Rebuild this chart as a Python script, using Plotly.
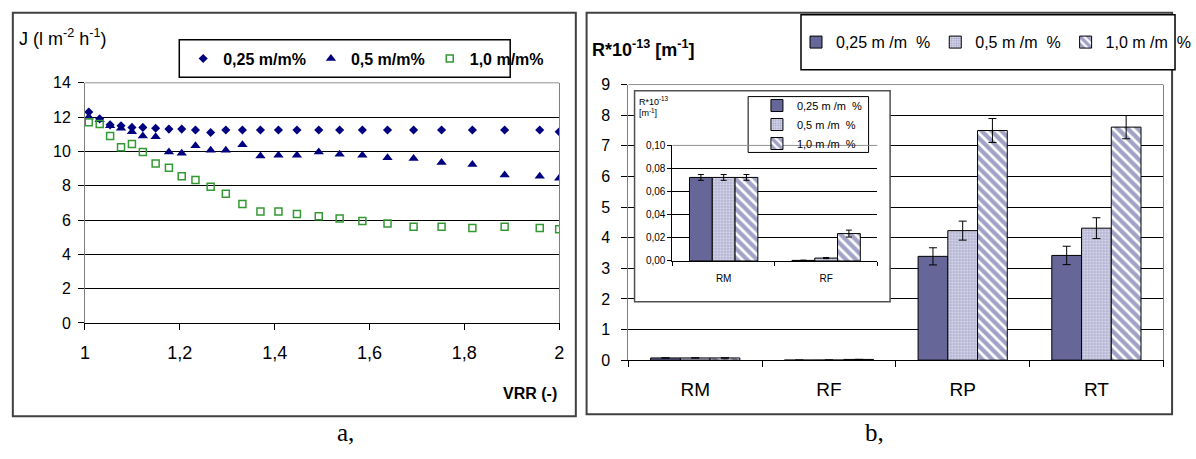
import plotly.graph_objects as go

W, H = 1196, 459

# ---------------- data: panel a ----------------
vrr = [1.008, 1.031, 1.053, 1.076, 1.099, 1.122, 1.149, 1.177, 1.204, 1.233, 1.265, 1.297, 1.332,
       1.370, 1.408, 1.447, 1.493, 1.537, 1.585, 1.638, 1.693, 1.752, 1.817, 1.885, 1.959, 2.0]
j_025 = [12.3, 11.9, 11.55, 11.5, 11.4, 11.4, 11.35, 11.3, 11.3, 11.25, 11.1, 11.25, 11.25,
         11.25, 11.25, 11.25, 11.25, 11.25, 11.25, 11.25, 11.25, 11.25, 11.25, 11.25, 11.25, 11.15]
j_05 = [12.0, 11.85, 11.5, 11.35, 11.15, 10.9, 10.85, 9.97, 9.9, 10.33, 10.07, 10.07, 10.39,
        9.73, 9.78, 9.78, 9.97, 9.84, 9.78, 9.63, 9.59, 9.36, 9.23, 8.63, 8.55, 8.44]
j_10 = [11.7, 11.6, 10.9, 10.24, 10.43, 9.97, 9.29, 9.05, 8.55, 8.34, 7.94, 7.53, 6.94,
        6.49, 6.49, 6.35, 6.22, 6.09, 5.94, 5.8, 5.61, 5.61, 5.54, 5.61, 5.54, 5.46]
series_a = ["0,25 m/m%", "0,5 m/m%", "1,0 m/m%"]
x_ticks_a = [1, 1.2, 1.4, 1.6, 1.8, 2]
y_ticks_a = [0, 2, 4, 6, 8, 10, 12, 14]

# ---------------- data: panel b ----------------
cats = ["RM", "RF", "RP", "RT"]
series_b = ["0,25 m /m  %", "0,5 m /m  %", "1,0 m /m  %"]
r_025 = [0.0723, 0.0005, 3.39, 3.42]
r_05 = [0.0723, 0.0025, 4.23, 4.31]
r_10 = [0.0723, 0.0237, 7.50, 7.61]
e_025 = [0.0025, 0.0002, 0.28, 0.30]
e_05 = [0.0025, 0.0005, 0.31, 0.34]
e_10 = [0.0025, 0.003, 0.39, 0.38]
y_ticks_b = [0, 1, 2, 3, 4, 5, 6, 7, 8, 9]
y_ticks_inset = [0, 0.02, 0.04, 0.06, 0.08, 0.10]
n_inset = 2  # inset shows RM and RF

FONT = "Liberation Sans, Arial, sans-serif"
DARK = "#666699"

def px_x(p):
    return p / W

def px_y(p):
    return 1 - p / H

fig = go.Figure()

# ---- panel a traces ----
fig.add_trace(go.Scatter(x=vrr, y=j_025, mode="markers", name=series_a[0],
                         marker=dict(symbol="diamond", size=7, color="#000080"),
                         xaxis="x4", yaxis="y4", legend="legend"))
fig.add_trace(go.Scatter(x=vrr, y=j_05, mode="markers", name=series_a[1],
                         marker=dict(symbol="triangle-up", size=9, color="#000080"),
                         xaxis="x4", yaxis="y4", legend="legend"))
fig.add_trace(go.Scatter(x=vrr, y=j_10, mode="markers", name=series_a[2],
                         marker=dict(symbol="square-open", size=7, color="#339933",
                                     line=dict(width=1.5, color="#339933")),
                         xaxis="x4", yaxis="y4", legend="legend"))

# ---- panel b bars ----
styles = [
    dict(color=DARK, line=dict(color="black", width=1)),
    dict(color="#c8c8e0", line=dict(color="black", width=1),
         pattern=dict(shape=".", fgcolor="#6a6aa8", bgcolor="#e2e2f0", size=3, solidity=0.5)),
    dict(color=DARK, line=dict(color="black", width=1),
         pattern=dict(shape="\\", fgcolor="#45458f", bgcolor="white", size=7, solidity=0.62)),
]
vals = [r_025, r_05, r_10]
errs = [e_025, e_05, e_10]
for i in range(3):
    fig.add_trace(go.Bar(x=cats, y=vals[i], name=series_b[i], marker=styles[i],
                         error_y=dict(type="data", array=errs[i], color="black", thickness=1, width=4),
                         xaxis="x", yaxis="y", legend="legend2"))
# cover subplot (opaque background for inset box)
fig.add_trace(go.Scatter(x=[None], y=[None], xaxis="x2", yaxis="y2", showlegend=False, hoverinfo="skip"))
for i in range(3):
    fig.add_trace(go.Bar(x=cats[:n_inset], y=vals[i][:n_inset], name=series_b[i], marker=styles[i],
                         error_y=dict(type="data", array=errs[i][:n_inset], color="black", thickness=1, width=3),
                         xaxis="x3", yaxis="y3", legend="legend3"))

axis_common = dict(zeroline=False, tickfont=dict(family=FONT, size=16, color="black"))

fig.update_layout(
    width=W, height=H, autosize=False,
    margin=dict(l=0, r=0, t=0, b=0),
    paper_bgcolor="white", plot_bgcolor="white",
    separators=", ",
    barmode="group", bargap=0.333, bargroupgap=0,
    font=dict(family=FONT, color="black"),
    # main b
    xaxis=dict(domain=[px_x(636.7), px_x(1183)], anchor="y", type="category", categoryorder="array",
               categoryarray=cats, range=[-0.5, 3.5], tickson="boundaries", ticks="outside", ticklen=6,
               tickcolor="black", showline=True, linecolor="black", linewidth=1, showgrid=False,
               zeroline=False, tickfont=dict(family=FONT, size=19, color="black"), ticklabelstandoff=12),
    yaxis=dict(domain=[px_y(365.7), px_y(79.5)], anchor="x", range=[0, 9], tickvals=y_ticks_b,
               ticks="outside", ticklen=6, tickcolor="black", showline=True, linecolor="#808080",
               mirror=True, showgrid=True, gridcolor="black", gridwidth=1, ticklabelstandoff=8, **axis_common),
    # cover
    xaxis2=dict(domain=[px_x(643), px_x(904)], anchor="y2", visible=False, range=[0, 1]),
    yaxis2=dict(domain=[px_y(305), px_y(86)], anchor="x2", visible=False, range=[0, 1]),
    # inset
    xaxis3=dict(domain=[px_x(681.7), px_x(891)], anchor="y3", type="category", categoryorder="array",
                categoryarray=cats[:n_inset], range=[-0.5, 1.5], tickson="boundaries", ticks="outside",
                ticklen=4, tickcolor="black", showline=True, linecolor="black", showgrid=False, zeroline=False,
                tickfont=dict(family=FONT, size=10, color="black"), ticklabelstandoff=8),
    yaxis3=dict(domain=[px_y(262.7), px_y(142.7)], anchor="x3", range=[0, 0.1], tickvals=y_ticks_inset,
                tickformat=".2f", ticks="outside", ticklen=4, tickcolor="black", showline=True,
                linecolor="black", showgrid=True, gridcolor="black", gridwidth=1, zeroline=False,
                tickfont=dict(family=FONT, size=10, color="black")),
    # panel a
    xaxis4=dict(domain=[px_x(81.7), px_x(566)], anchor="y4", range=[1, 2], tickvals=x_ticks_a,
                ticks="outside", ticklen=6, tickcolor="black", showline=True, linecolor="black",
                showgrid=False, zeroline=False, ticklabelstandoff=8,
                tickfont=dict(family=FONT, size=18, color="black")),
    yaxis4=dict(domain=[px_y(327), px_y(77.7)], anchor="x4", range=[0, 14], tickvals=y_ticks_a,
                ticks="outside", ticklen=6, tickcolor="black", showline=True, linecolor="#808080",
                mirror=True, showgrid=True, gridcolor="black", gridwidth=1, ticklabelstandoff=4,
                **axis_common),
    legend=dict(orientation="h", x=px_x(182), xanchor="left", y=px_y(52.5), yanchor="middle",
                bgcolor="rgba(0,0,0,0)", borderwidth=0, itemwidth=30,
                font=dict(family=FONT, size=16, color="black", weight="bold")),
    legend2=dict(orientation="h", x=px_x(808), xanchor="left", y=px_y(35.5), yanchor="middle",
                 bgcolor="rgba(0,0,0,0)", borderwidth=0, itemwidth=30,
                 font=dict(family=FONT, size=16, color="black")),
    legend3=dict(orientation="v", x=px_x(768), xanchor="left", y=px_y(121), yanchor="middle",
                 bgcolor="rgba(0,0,0,0)", borderwidth=0, itemwidth=30, tracegroupgap=0,
                 font=dict(family=FONT, size=11, color="black")),
    showlegend=True,
)

shapes = [
    # panel frames
    dict(type="rect", xref="paper", yref="paper", x0=px_x(8), x1=px_x(583), y0=px_y(424), y1=px_y(5),
         line=dict(color="#404040", width=2), layer="below"),
    dict(type="rect", xref="paper", yref="paper", x0=px_x(594), x1=px_x(1192), y0=px_y(422), y1=px_y(5),
         line=dict(color="#404040", width=2), layer="below"),
    # legend frames
    dict(type="rect", xref="paper", yref="paper", x0=px_x(178), x1=px_x(516), y0=px_y(72), y1=px_y(33),
         line=dict(color="black", width=1.5), fillcolor="white", layer="above"),
    dict(type="rect", xref="paper", yref="paper", x0=px_x(813), x1=px_x(1195), y0=px_y(64), y1=px_y(7),
         line=dict(color="black", width=1.5), fillcolor="white", layer="above"),
    dict(type="rect", xref="paper", yref="paper", x0=px_x(643), x1=px_x(904), y0=px_y(305), y1=px_y(86),
         line=dict(color="#505050", width=1.5), layer="above"),
    dict(type="rect", xref="paper", yref="paper", x0=px_x(759), x1=px_x(882), y0=px_y(150), y1=px_y(92),
         line=dict(color="black", width=1), fillcolor="white", layer="above"),
]
# gray top borders of plot areas
for xr, yr in [("x4", "y4"), ("x", "y"), ("x3", "y3")]:
    shapes.append(dict(type="line", xref=xr + " domain", yref=yr + " domain", x0=0, x1=1, y0=1, y1=1,
                       line=dict(color="#909090", width=1), layer="above"))
fig.update_layout(shapes=shapes)

ann = [
    dict(x=px_x(12), y=px_y(31), xref="paper", yref="paper", xanchor="left", yanchor="middle",
         text="J (l m<sup>-2</sup> h<sup>-1</sup>)", showarrow=False, font=dict(family=FONT, size=18)),
    dict(x=px_x(566), y=px_y(400), xref="paper", yref="paper", xanchor="right", yanchor="middle",
         text="<b>VRR (-)</b>", showarrow=False, font=dict(family=FONT, size=16)),
    dict(x=px_x(597), y=px_y(42), xref="paper", yref="paper", xanchor="left", yanchor="middle",
         text="<b>R*10<sup>-13</sup> [m<sup>-1</sup>]</b>", showarrow=False, font=dict(family=FONT, size=18)),
    dict(x=px_x(645), y=px_y(88), xref="paper", yref="paper", xanchor="left", yanchor="top", align="left",
         text="R*10<sup>-13</sup><br>[m<sup>-1</sup>]", showarrow=False, font=dict(family=FONT, size=9)),
    dict(x=px_x(348), y=px_y(441), xref="paper", yref="paper", xanchor="center", yanchor="middle",
         text="a,", showarrow=False, font=dict(family="Liberation Serif, Times New Roman, serif", size=25)),
    dict(x=px_x(888), y=px_y(441), xref="paper", yref="paper", xanchor="center", yanchor="middle",
         text="b,", showarrow=False, font=dict(family="Liberation Serif, Times New Roman, serif", size=25)),
]
fig.update_layout(annotations=ann)

fig.write_html("out.html")
